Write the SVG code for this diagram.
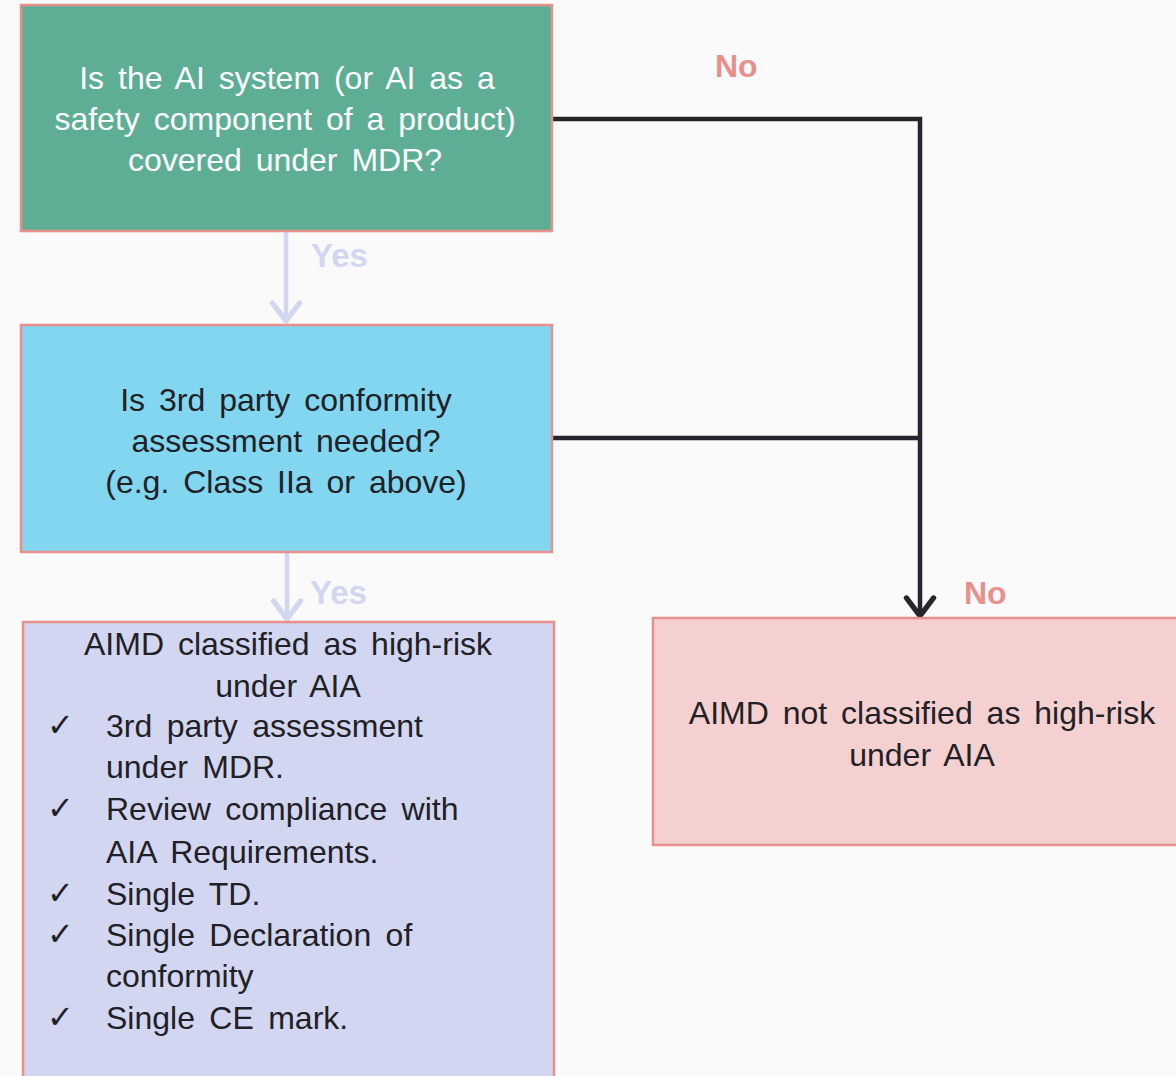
<svg xmlns="http://www.w3.org/2000/svg" width="1176" height="1076" viewBox="0 0 1176 1076">
<defs>
<style>
.box{stroke:#e8908c;stroke-width:2.5}
.t{font-family:"Liberation Sans",Arial,sans-serif;font-size:32px;word-spacing:5px;text-anchor:middle}
.l{font-family:"Liberation Sans",Arial,sans-serif;font-size:32px;word-spacing:5.5px;fill:#1f2126}
.ck{font-family:"DejaVu Sans",sans-serif;font-size:32px;fill:#1f2126}
.yes{font-family:"Liberation Sans",Arial,sans-serif;font-size:33px;font-weight:bold;fill:#d3d6f0}
.no{font-family:"Liberation Sans",Arial,sans-serif;font-size:32px;font-weight:bold;fill:#e8908c}
.dark{fill:none;stroke:#24262b;stroke-width:4.5}
.light{fill:none;stroke:#d3d6f0;stroke-width:4.5}
</style>
<marker id="ad" viewBox="0 0 20 20" refX="14" refY="10" markerWidth="8" markerHeight="8" markerUnits="strokeWidth" orient="auto">
<path d="M4,2.5 L14,10 L4,17.5" fill="none" stroke="#24262b" stroke-width="3" stroke-linecap="round" stroke-linejoin="round"/>
</marker>
<marker id="al" viewBox="0 0 20 20" refX="14" refY="10" markerWidth="8" markerHeight="8" markerUnits="strokeWidth" orient="auto">
<path d="M4,2.5 L14,10 L4,17.5" fill="none" stroke="#d3d6f0" stroke-width="3" stroke-linecap="round" stroke-linejoin="round"/>
</marker>
</defs>
<rect x="0" y="0" width="1176" height="1076" fill="#fafafa"/>
<g id="connectors">
<path class="light" d="M286,231 V321" marker-end="url(#al)"/>
<path class="light" d="M287,553 V619" marker-end="url(#al)"/>
<path class="dark" d="M552,119 H920 V616" marker-end="url(#ad)"/>
<path class="dark" d="M552,438 H920"/>
<text class="yes" x="311" y="267">Yes</text>
<text class="yes" x="310" y="604">Yes</text>
<text class="no" x="715" y="77">No</text>
<text class="no" x="964" y="604">No</text>
</g>
<g id="q1">
<rect class="box" x="21" y="5" width="531" height="226" fill="#5eae95"/>
<text class="t" fill="#ffffff" x="287" y="89">Is the AI system (or AI as a</text>
<text class="t" fill="#ffffff" x="285" y="130">safety component of a product)</text>
<text class="t" fill="#ffffff" x="285" y="171">covered under MDR?</text>
</g>
<g id="q2">
<rect class="box" x="21" y="325" width="531" height="227" fill="#83d6f0"/>
<text class="t" fill="#1f2126" x="286" y="411">Is 3rd party conformity</text>
<text class="t" fill="#1f2126" x="286" y="452">assessment needed?</text>
<text class="t" fill="#1f2126" x="286" y="493">(e.g. Class IIa or above)</text>
</g>
<g id="high-risk">
<rect class="box" x="23" y="622" width="531" height="460" fill="#d3d6f0"/>
<text class="t" fill="#1f2126" x="288" y="655">AIMD classified as high-risk</text>
<text class="t" fill="#1f2126" x="288" y="697">under AIA</text>
<text class="ck" x="47" y="736">✓</text>
<text class="l" x="106" y="737">3rd party assessment</text>
<text class="l" x="106" y="778">under MDR.</text>
<text class="ck" x="47" y="819">✓</text>
<text class="l" x="106" y="820">Review compliance with</text>
<text class="l" x="106" y="863">AIA Requirements.</text>
<text class="ck" x="47" y="904">✓</text>
<text class="l" x="106" y="905">Single TD.</text>
<text class="ck" x="47" y="945">✓</text>
<text class="l" x="106" y="946">Single Declaration of</text>
<text class="l" x="106" y="987">conformity</text>
<text class="ck" x="47" y="1028">✓</text>
<text class="l" x="106" y="1029">Single CE mark.</text>
</g>
<g id="not-high-risk">
<rect class="box" x="653" y="618" width="540" height="227" fill="#f5d0d0"/>
<text class="t" fill="#1f2126" x="922" y="724">AIMD not classified as high-risk</text>
<text class="t" fill="#1f2126" x="922" y="766">under AIA</text>
</g>
</svg>
